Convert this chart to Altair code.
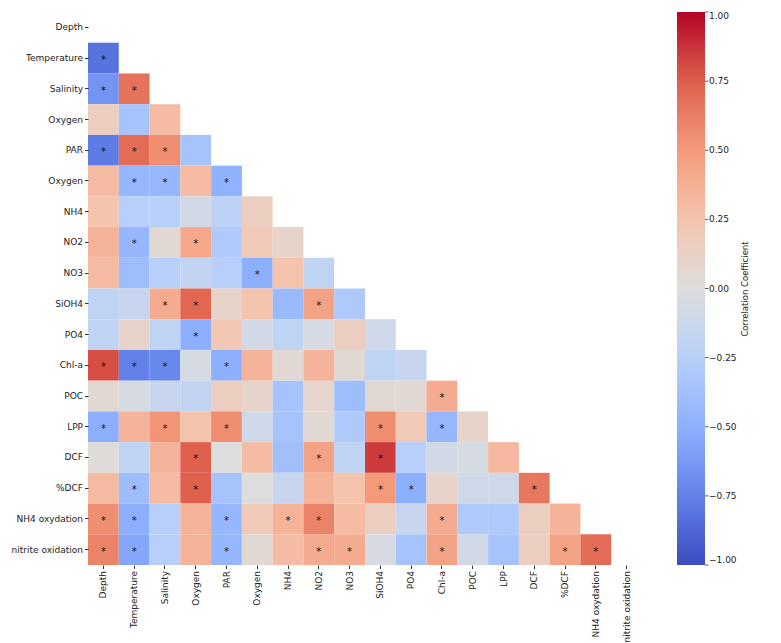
import altair as alt
import pandas as pd

names = ["Depth", "Temperature", "Salinity", "Oxygen", "PAR", "Oxygen", "NH4", "NO2",
         "NO3", "SiOH4", "PO4", "Chl-a", "POC", "LPP", "DCF", "%DCF",
         "NH4 oxydation", "nitrite oxidation"]

# lower-triangle correlation values (row i, columns 0..i-1) and significance flags
r_temperature = [-0.82]
s_temperature = [1]
r_salinity = [-0.65, 0.67]
s_salinity = [1, 1]
r_oxygen = [0.15, -0.35, 0.30]
s_oxygen = [0, 0, 0]
r_par = [-0.78, 0.70, 0.55, -0.35]
s_par = [1, 1, 1, 0]
r_oxygen2 = [0.30, -0.45, -0.45, 0.30, -0.48]
s_oxygen2 = [0, 1, 1, 0, 1]
r_nh4 = [0.25, -0.25, -0.25, -0.08, -0.22, 0.15]
s_nh4 = [0, 0, 0, 0, 0, 0]
r_no2 = [0.35, -0.45, 0.05, 0.42, -0.30, 0.20, 0.10]
s_no2 = [0, 1, 0, 1, 0, 0, 0]
r_no3 = [0.30, -0.40, -0.25, -0.18, -0.25, -0.50, 0.25, -0.20]
s_no3 = [0, 0, 0, 0, 0, 1, 0, 0]
r_sioh4 = [-0.20, -0.15, 0.40, 0.72, 0.10, 0.25, -0.42, 0.45, -0.30]
s_sioh4 = [0, 0, 1, 1, 0, 0, 0, 1, 0]
r_po4 = [-0.20, 0.10, -0.20, -0.50, 0.22, -0.08, -0.20, -0.05, 0.15, -0.10]
s_po4 = [0, 0, 0, 1, 0, 0, 0, 0, 0, 0]
r_chla = [0.80, -0.75, -0.72, -0.05, -0.50, 0.35, 0.05, 0.35, 0.05, -0.20, -0.15]
s_chla = [1, 1, 1, 0, 1, 0, 0, 0, 0, 0, 0]
r_poc = [0.05, -0.05, -0.15, -0.18, 0.15, 0.10, -0.35, 0.08, -0.40, 0.05, 0.05, 0.40]
s_poc = [0, 0, 0, 0, 0, 0, 0, 0, 0, 0, 0, 1]
r_lpp = [-0.50, 0.35, 0.52, 0.25, 0.55, -0.10, -0.35, 0.05, -0.30, 0.55, 0.20, -0.45, 0.10]
s_lpp = [1, 0, 1, 0, 1, 0, 0, 0, 0, 1, 0, 1, 0]
r_dcf = [0.02, -0.20, 0.35, 0.75, 0.00, 0.30, -0.38, 0.45, -0.20, 0.85, -0.25, -0.08, -0.05, 0.32]
s_dcf = [0, 0, 0, 1, 0, 0, 0, 1, 0, 1, 0, 0, 0, 0]
r_pdcf = [0.30, -0.40, 0.30, 0.75, -0.35, 0.00, -0.15, 0.35, 0.25, 0.50, -0.50, 0.10, -0.10, -0.10, 0.65]
s_pdcf = [0, 1, 0, 1, 0, 0, 0, 0, 0, 1, 1, 0, 0, 0, 1]
r_nh4ox = [0.55, -0.50, -0.25, 0.35, -0.45, 0.20, 0.35, 0.60, 0.30, 0.15, -0.15, 0.40, -0.30, -0.30, 0.15, 0.35]
s_nh4ox = [1, 1, 0, 0, 1, 0, 1, 1, 0, 0, 0, 1, 0, 0, 0, 0]
r_nitrite = [0.60, -0.55, -0.25, 0.35, -0.45, 0.05, 0.30, 0.40, 0.40, -0.05, -0.35, 0.45, -0.08, -0.35, 0.15, 0.45, 0.70]
s_nitrite = [1, 1, 0, 0, 1, 0, 0, 1, 1, 0, 0, 1, 0, 0, 0, 1, 1]

row_values = [r_temperature, r_salinity, r_oxygen, r_par, r_oxygen2, r_nh4, r_no2, r_no3,
              r_sioh4, r_po4, r_chla, r_poc, r_lpp, r_dcf, r_pdcf, r_nh4ox, r_nitrite]
row_sig = [s_temperature, s_salinity, s_oxygen, s_par, s_oxygen2, s_nh4, s_no2, s_no3,
           s_sioh4, s_po4, s_chla, s_poc, s_lpp, s_dcf, s_pdcf, s_nh4ox, s_nitrite]

legend_ticks = [-1.0, -0.75, -0.5, -0.25, 0.0, 0.25, 0.5, 0.75, 1.0]
coolwarm = ["#3b4cc0", "#6282ea", "#8db0fe", "#b8d0f9", "#dddddd",
            "#f5c4ad", "#f49a7b", "#de604d", "#b40426"]
colorbar_title = "Correlation Coefficient"

records = []
for i, (vals, sigs) in enumerate(zip(row_values, row_sig), start=1):
    for j, (v, s) in enumerate(zip(vals, sigs)):
        records.append({"row": i, "col": j, "r": v, "sig": s})
df = pd.DataFrame(records)

label_expr = "[" + ",".join("'" + n + "'" for n in names) + "][datum.value]"
idx = list(range(len(names)))
FONT = "DejaVu Sans"

x_enc = alt.X("col:O",
              scale=alt.Scale(domain=idx, paddingInner=0, paddingOuter=0),
              axis=alt.Axis(title=None, labelExpr=label_expr, labelAngle=270,
                            domain=False, tickSize=3.5, tickColor="#333",
                            labelPadding=2, labelFontSize=9, labelColor="#222",
                            labelFont=FONT, minExtent=70, maxExtent=70))
y_enc = alt.Y("row:O",
              scale=alt.Scale(domain=idx, paddingInner=0, paddingOuter=0),
              axis=alt.Axis(title=None, labelExpr=label_expr, domain=False,
                            tickSize=3.5, tickColor="#333", labelPadding=2,
                            labelFontSize=9, labelColor="#222", labelFont=FONT,
                            minExtent=80, maxExtent=80))

heat = alt.Chart(df).mark_rect().encode(
    x=x_enc,
    y=y_enc,
    color=alt.Color("r:Q",
                    scale=alt.Scale(domain=legend_ticks, range=coolwarm,
                                    interpolate="rgb"),
                    legend=alt.Legend(title=None,
                                      values=legend_ticks, format=".2f",
                                      direction="vertical", orient="right",
                                      gradientLength=553, gradientThickness=28,
                                      offset=35, labelOffset=4,
                                      labelFontSize=9, labelColor="#222",
                                      labelFont=FONT, labelBaseline="middle")),
)

stars = alt.Chart(df).transform_filter("datum.sig == 1").mark_text(
    text="*", fontSize=10, color="#111", baseline="middle", dy=2, font=FONT
).encode(x=x_enc, y=y_enc)

title_df = pd.DataFrame({"t": [colorbar_title]})
cbar_title = alt.Chart(title_df).mark_text(
    angle=270, fontSize=8.5, color="#222", font=FONT, align="center",
    baseline="middle"
).encode(text="t:N", x=alt.value(657), y=alt.value(277))

tick_df = pd.DataFrame({"v": legend_ticks})
cbar_ticks = alt.Chart(tick_df).mark_rule(color="#333", strokeWidth=0.8).encode(
    x=alt.value(617), x2=alt.value(620.5),
    y=alt.Y("v:Q", scale=alt.Scale(domain=[-1, 1]), axis=None),
)

main = alt.layer(heat, stars, cbar_title)

chart = alt.layer(main, cbar_ticks).resolve_scale(
    y="independent"
).properties(
    width=554, height=553,
    padding={"left": 0, "top": 3, "right": 0, "bottom": 0},
).configure_view(stroke=None)

chart.save("out.html", embed_options={"renderer": "svg", "actions": False})
